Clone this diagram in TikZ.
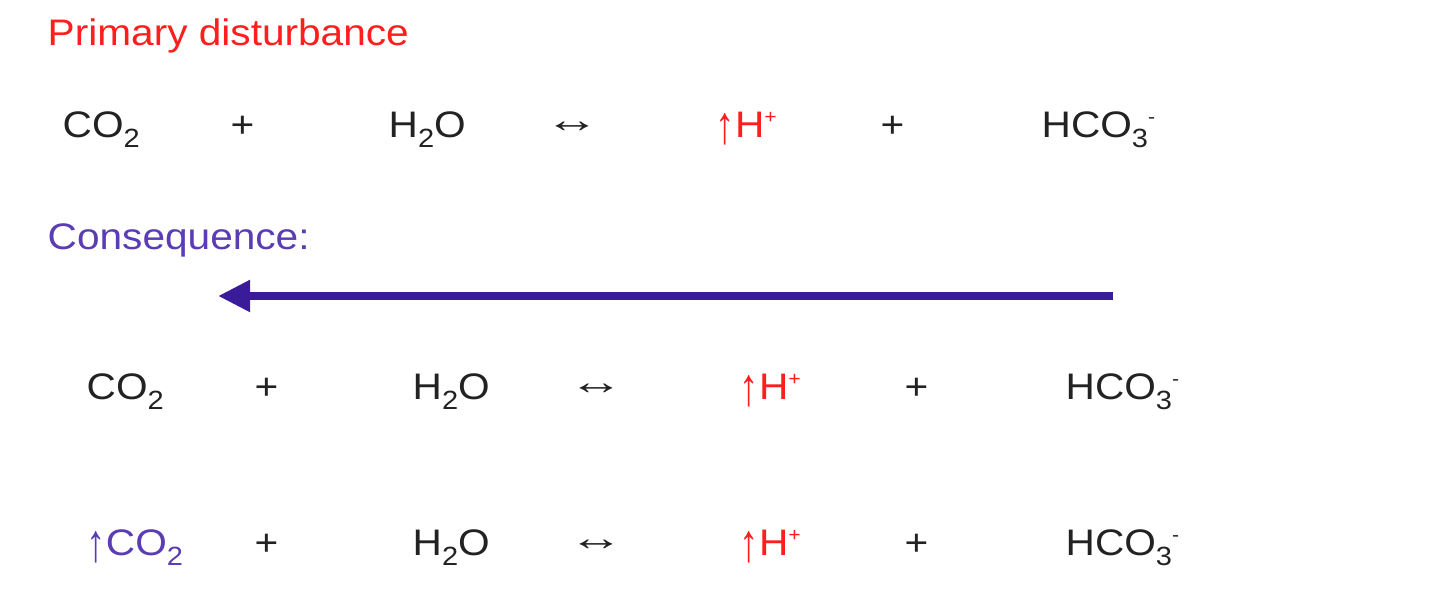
\documentclass[tikz,border=0pt]{standalone}
\usepackage{fontspec}
\setmainfont{Liberation Sans}[FakeStretch=1.1]
\usetikzlibrary{arrows.meta}
\definecolor{distred}{HTML}{FF1E1E}
\definecolor{conspurple}{HTML}{5A3CB4}
\definecolor{arrowpurple}{HTML}{3A1C9A}
\definecolor{chemgray}{HTML}{222222}
\newcommand{\chemdown}[1]{\raisebox{-0.5ex}{\fontsize{7.5}{8}\selectfont #1}}
\newcommand{\chemup}[1]{\raisebox{0.75ex}{\fontsize{5.5}{6}\selectfont #1}}
\newcommand{\uparr}{\raisebox{-0.3ex}{\scalebox{0.95}[1.45]{↑}}}
\newcommand{\eqarr}{\raisebox{0.3ex}{\scalebox{1.35}[1]{↔}}}
\tikzstyle{chem}=[anchor=base west, inner sep=0, text=chemgray, font=\fontsize{10.5}{12}\selectfont]
\tikzstyle{chemred}=[chem, text=distred]
\tikzstyle{heading}=[chem, text=conspurple]
\tikzstyle{shiftarrow}=[arrowpurple, line width=2.3pt, -{Triangle[length=0.32cm, width=0.3cm]}]
\newcommand{\drawreaction}[4]{
  \node[chem] (#1co2) at (#2, #3) {#4};
  \node[chem] (#1plusA) at (#2+168, #3) {+};
  \node[chem] (#1water) at (#2+326, #3) {H\chemdown{2}O};
  \node[chem] (#1eq) at (#2+482, #3) {\eqarr};
  \node[chemred] (#1hplus) at (#2+653, #3) {\uparr H\chemup{+}};
  \node[chem] (#1plusB) at (#2+818, #3) {+};
  \node[chem] (#1bicarb) at (#2+979, #3) {HCO\chemdown{3}\chemup{-}};
}

\begin{document}
\begin{tikzpicture}[x=0.01cm, y=-0.01cm]
      \useasboundingbox (0,0) rectangle (1440,604);
      \node[chemred] (primary) at (47, 46) {Primary disturbance};
      \drawreaction{top}{62}{138}{CO\chemdown{2}}

      \node[heading] (consequence) at (47, 250) {Consequence:};
      \coordinate (shiftstart) at (1113, 296);
      \coordinate (shiftend) at (218, 296);
      \draw[shiftarrow] (shiftstart) -- (shiftend);

      \drawreaction{mid}{86}{400}{CO\chemdown{2}}
      \drawreaction{low}{86}{556}{\textcolor{conspurple}{\uparr CO\chemdown{2}}}
    \end{tikzpicture}
\end{document}
